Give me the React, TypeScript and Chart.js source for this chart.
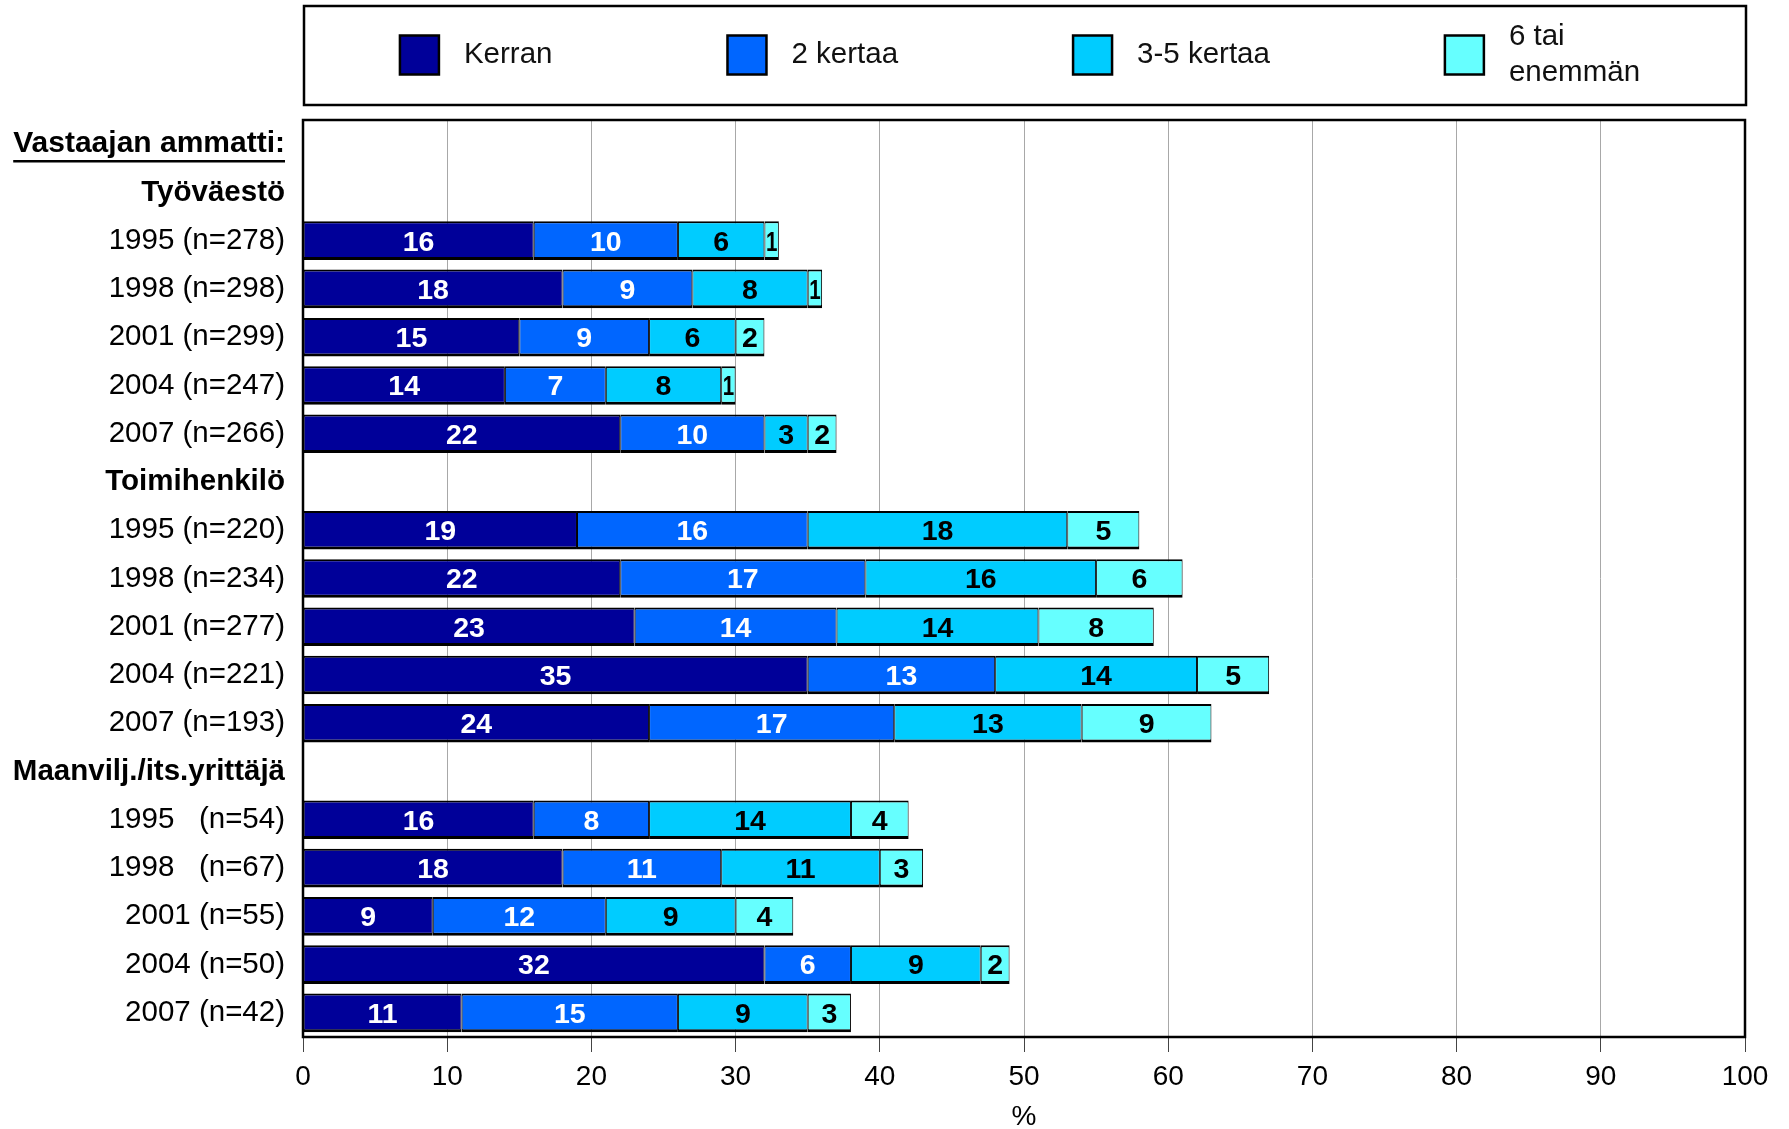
import React, { useEffect, useRef } from "react";
import { Chart, registerables } from "chart.js";

Chart.register(...registerables);

const FONT = "'Liberation Sans', Arial, Helvetica, sans-serif";

const categories = [
  "Vastaajan ammatti:",
  "Työväestö",
  "1995 (n=278)",
  "1998 (n=298)",
  "2001 (n=299)",
  "2004 (n=247)",
  "2007 (n=266)",
  "Toimihenkilö",
  "1995 (n=220)",
  "1998 (n=234)",
  "2001 (n=277)",
  "2004 (n=221)",
  "2007 (n=193)",
  "Maanvilj./its.yrittäjä",
  "1995   (n=54)",
  "1998   (n=67)",
  "2001 (n=55)",
  "2004 (n=50)",
  "2007 (n=42)",
];
const headerRows = [0, 1, 7, 13];
const underlinedRows = [0];

const seriesNames = ["Kerran", "2 kertaa", "3-5 kertaa", "6 tai enemmän"];
const legendLines = [["Kerran"], ["2 kertaa"], ["3-5 kertaa"], ["6 tai", "enemmän"]];
const seriesColors = ["#000099", "#0066FF", "#00CCFF", "#66FFFF"];
const labelColors = ["#ffffff", "#ffffff", "#000000", "#000000"];

const kerran = [null, null, 16, 18, 15, 14, 22, null, 19, 22, 23, 35, 24, null, 16, 18, 9, 32, 11];
const kertaa2 = [null, null, 10, 9, 9, 7, 10, null, 16, 17, 14, 13, 17, null, 8, 11, 12, 6, 15];
const kertaa35 = [null, null, 6, 8, 6, 8, 3, null, 18, 16, 14, 14, 13, null, 14, 11, 9, 9, 9];
const kertaa6 = [null, null, 1, 1, 2, 1, 2, null, 5, 6, 8, 5, 9, null, 4, 3, 4, 2, 3];
const seriesValues = [kerran, kertaa2, kertaa35, kertaa6];

const xMin = 0;
const xMax = 100;
const xStep = 10;
const xTitle = "%";

const legendBoxPlugin = {
  id: "legendBox",
  afterDraw(chart: any) {
    const { ctx, chartArea } = chart;
    const left = chartArea.left + 1;
    const right = chartArea.right + 1;
    const top = 6;
    const bottom = 105;
    ctx.save();
    ctx.fillStyle = "#ffffff";
    ctx.fillRect(left, top, right - left, bottom - top);
    ctx.strokeStyle = "#000";
    ctx.lineWidth = 2.5;
    ctx.strokeRect(left, top, right - left, bottom - top);
    ctx.font = `29.5px ${FONT}`;
    const box = 39;
    const gapBoxText = 25;
    const gapItems = 175;
    const widths = legendLines.map((lines) => Math.max(...lines.map((l) => ctx.measureText(l).width)));
    const total = widths.reduce((s, w) => s + box + gapBoxText + w, 0) + gapItems * (legendLines.length - 1);
    let x = (left + right) / 2 - total / 2 - 5;
    const cy = 55;
    legendLines.forEach((lines, i) => {
      ctx.fillStyle = seriesColors[i];
      ctx.fillRect(x, cy - box / 2, box, box);
      ctx.strokeStyle = "#000";
      ctx.lineWidth = 2.5;
      ctx.strokeRect(x, cy - box / 2, box, box);
      ctx.fillStyle = "#111";
      ctx.textAlign = "left";
      ctx.textBaseline = "middle";
      const lh = 36;
      lines.forEach((line, li) => {
        const ty = cy + (li - (lines.length - 1) / 2) * lh;
        ctx.fillText(line, x + box + gapBoxText, ty);
      });
      x += box + gapBoxText + widths[i] + gapItems;
    });
    ctx.restore();
  },
};

const borderPlugin = {
  id: "plotBorder",
  afterDatasetsDraw(chart: any) {
    const { ctx, chartArea } = chart;
    ctx.save();
    ctx.strokeStyle = "#000";
    ctx.lineWidth = 2.5;
    ctx.strokeRect(chartArea.left, chartArea.top, chartArea.right - chartArea.left, chartArea.bottom - chartArea.top);
    ctx.restore();
  },
};

const valueLabelPlugin = {
  id: "valueLabels",
  afterDatasetsDraw(chart: any) {
    const { ctx } = chart;
    ctx.save();
    ctx.font = `bold 28.5px ${FONT}`;
    ctx.textAlign = "center";
    ctx.textBaseline = "middle";
    chart.data.datasets.forEach((ds: any, di: number) => {
      const meta = chart.getDatasetMeta(di);
      meta.data.forEach((el: any, i: number) => {
        const v = ds.data[i];
        if (v === null || v === undefined) return;
        const { x, base, y } = el.getProps(["x", "base", "y"], true);
        const w = Math.abs(x - base);
        ctx.fillStyle = labelColors[di];
        ctx.fillText(String(v), (x + base) / 2, y + 2, Math.max(w - 3, 4));
      });
    });
    ctx.restore();
  },
};

const underlinePlugin = {
  id: "underline",
  afterDraw(chart: any) {
    const { ctx } = chart;
    const yScale = chart.scales.y;
    ctx.save();
    ctx.font = `bold 30px ${FONT}`;
    ctx.strokeStyle = "#000";
    ctx.lineWidth = 2.5;
    underlinedRows.forEach((idx) => {
      const y = yScale.getPixelForTick(idx) + 17;
      const w = ctx.measureText(categories[idx]).width;
      const right = yScale.right - 18;
      ctx.beginPath();
      ctx.moveTo(right - w, y);
      ctx.lineTo(right, y);
      ctx.stroke();
    });
    ctx.restore();
  },
};

export default function App() {
  const canvasRef = useRef<HTMLCanvasElement | null>(null);

  useEffect(() => {
    if (!canvasRef.current) return;
    const chart = new Chart(canvasRef.current, {
      type: "bar",
      data: {
        labels: categories,
        datasets: seriesValues.map((vals, i) => ({
          label: seriesNames[i],
          data: vals,
          backgroundColor: seriesColors[i],
          borderColor: "#000",
          borderWidth: { top: 2, bottom: 3, left: 1, right: 1 },
          borderSkipped: false,
          categoryPercentage: 1,
          barPercentage: 0.8,
        })),
      },
      options: {
        indexAxis: "y",
        animation: false,
        responsive: true,
        maintainAspectRatio: false,
        layout: { padding: { top: 120, right: 44, left: 0, bottom: 0 } },
        plugins: {
          legend: { display: false },
          tooltip: { enabled: false },
        },
        scales: {
          x: {
            type: "linear",
            stacked: true,
            min: xMin,
            max: xMax,
            ticks: { stepSize: xStep, color: "#000", font: { family: FONT, size: 28 }, padding: 8 },
            grid: { color: "#a8a8a8", lineWidth: 1, tickLength: 15, tickColor: "#444" },
            border: { display: false },
            title: {
              display: true,
              text: xTitle,
              color: "#000",
              font: { family: FONT, size: 28, lineHeight: 0.85 },
              padding: { top: 0, bottom: 0 },
            },
            afterFit: (scale: any) => {
              scale.height = 92;
            },
          },
          y: {
            type: "category",
            stacked: true,
            grid: { display: false, drawTicks: false },
            border: { display: false },
            ticks: {
              autoSkip: false,
              padding: 18,
              color: "#000",
              font: (c: any) => ({
                family: FONT,
                size: c.index === 0 ? 30 : 29.5,
                weight: headerRows.includes(c.index) ? "bold" : "normal",
              }),
            },
            afterFit: (scale: any) => {
              scale.width = 303;
            },
          },
        },
      },
      plugins: [borderPlugin, valueLabelPlugin, legendBoxPlugin, underlinePlugin],
    } as any);
    return () => chart.destroy();
  }, []);

  return (
    <div style={{ position: "absolute", left: 0, top: 0, width: 1789, height: 1129, background: "#fff" }}>
      <canvas ref={canvasRef} />
    </div>
  );
}
